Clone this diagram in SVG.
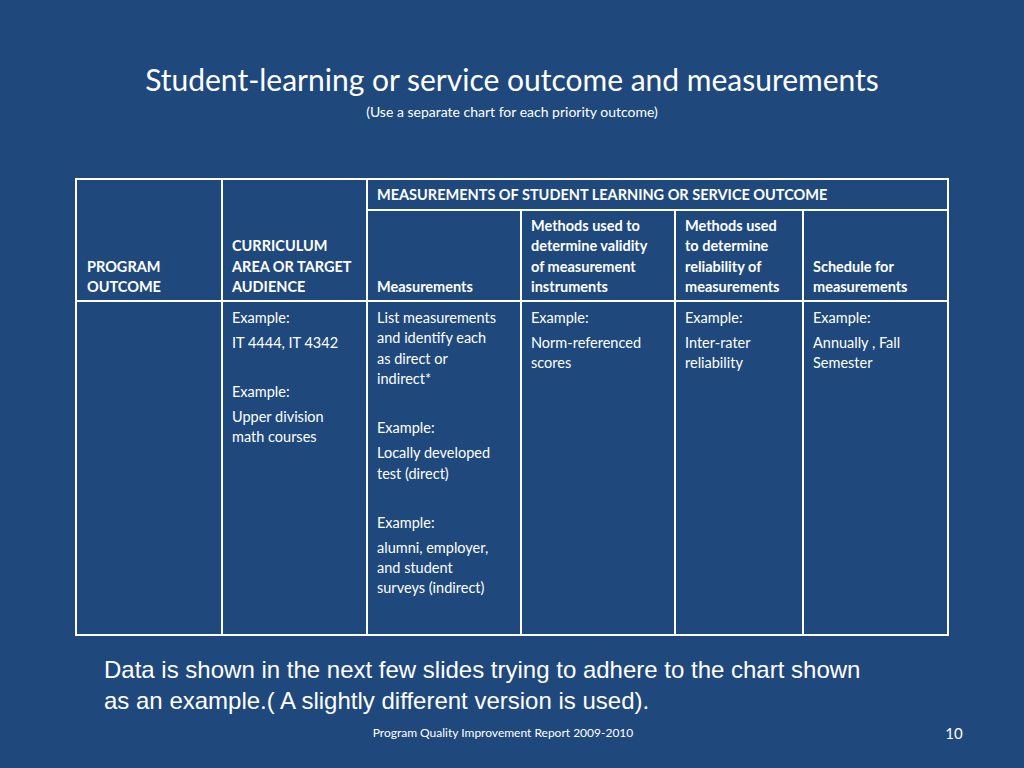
<svg xmlns="http://www.w3.org/2000/svg" width="1024" height="768" viewBox="0 0 1024 768">
<style>
text{font-family:Lato,"Open Sans",sans-serif;fill:#fff}
.b{font-weight:bold;font-size:14.5px}
.n{font-size:14.5px}
.l{stroke:#fff;stroke-width:2;fill:none}
</style>
<rect width="1024" height="768" fill="#1F497D"/>
<text x="512" y="91" font-size="30" text-anchor="middle">Student-learning or service outcome and measurements</text>
<text x="512" y="117" font-size="14" text-anchor="middle">(Use a separate chart for each priority outcome)</text>
<g id="table">
<rect x="76" y="179" width="872" height="456" class="l" stroke-width="3"/>
<path class="l" d="M222 179V635M367 179V635M521 210V635M675 210V635M803 210V635M367 210H948M76 301H948"/>
</g>
<g id="headers">
<text x="377" y="200" class="b">MEASUREMENTS OF STUDENT LEARNING OR SERVICE OUTCOME</text>
<text class="b"><tspan x="87" y="272">PROGRAM</tspan><tspan x="87" y="292">OUTCOME</tspan></text>
<text class="b"><tspan x="232" y="251">CURRICULUM</tspan><tspan x="232" y="272">AREA OR TARGET</tspan><tspan x="232" y="292">AUDIENCE</tspan></text>
<text class="b" x="377" y="292">Measurements</text>
<text class="b"><tspan x="531" y="231">Methods used to</tspan><tspan x="531" y="251">determine validity</tspan><tspan x="531" y="272">of measurement</tspan><tspan x="531" y="292">instruments</tspan></text>
<text class="b"><tspan x="685" y="231">Methods used</tspan><tspan x="685" y="251">to determine</tspan><tspan x="685" y="272">reliability of</tspan><tspan x="685" y="292">measurements</tspan></text>
<text class="b"><tspan x="813" y="272">Schedule for</tspan><tspan x="813" y="292">measurements</tspan></text>
</g>
<g id="body">
<text class="n"><tspan x="232" y="323">Example:</tspan><tspan x="232" y="348">IT 4444,  IT 4342</tspan><tspan x="232" y="397">Example:</tspan><tspan x="232" y="422">Upper division</tspan><tspan x="232" y="442">math courses</tspan></text>
<text class="n"><tspan x="377" y="323">List measurements</tspan><tspan x="377" y="343">and identify each</tspan><tspan x="377" y="364">as direct or</tspan><tspan x="377" y="384">indirect*</tspan><tspan x="377" y="433">Example:</tspan><tspan x="377" y="458">Locally developed</tspan><tspan x="377" y="479">test (direct)</tspan><tspan x="377" y="528">Example:</tspan><tspan x="377" y="553">alumni, employer,</tspan><tspan x="377" y="573">and student</tspan><tspan x="377" y="593">surveys (indirect)</tspan></text>
<text class="n"><tspan x="531" y="323">Example:</tspan><tspan x="531" y="348">Norm-referenced</tspan><tspan x="531" y="368">scores</tspan></text>
<text class="n"><tspan x="685" y="323">Example:</tspan><tspan x="685" y="348">Inter-rater</tspan><tspan x="685" y="368">reliability</tspan></text>
<text class="n"><tspan x="813" y="323">Example:</tspan><tspan x="813" y="348">Annually , Fall</tspan><tspan x="813" y="368">Semester</tspan></text>
</g>
<text font-family="Liberation Sans" font-size="24" style="font-family:'Liberation Sans',Arial,sans-serif"><tspan x="104" y="678">Data is shown in the next few slides trying to adhere to the chart shown</tspan><tspan x="104" y="709">as an example.( A slightly different version is used).</tspan></text>
<text x="503" y="737" font-size="12" text-anchor="middle">Program Quality Improvement Report 2009-2010</text>
<text x="954" y="739" font-size="15" text-anchor="middle">10</text>
</svg>
